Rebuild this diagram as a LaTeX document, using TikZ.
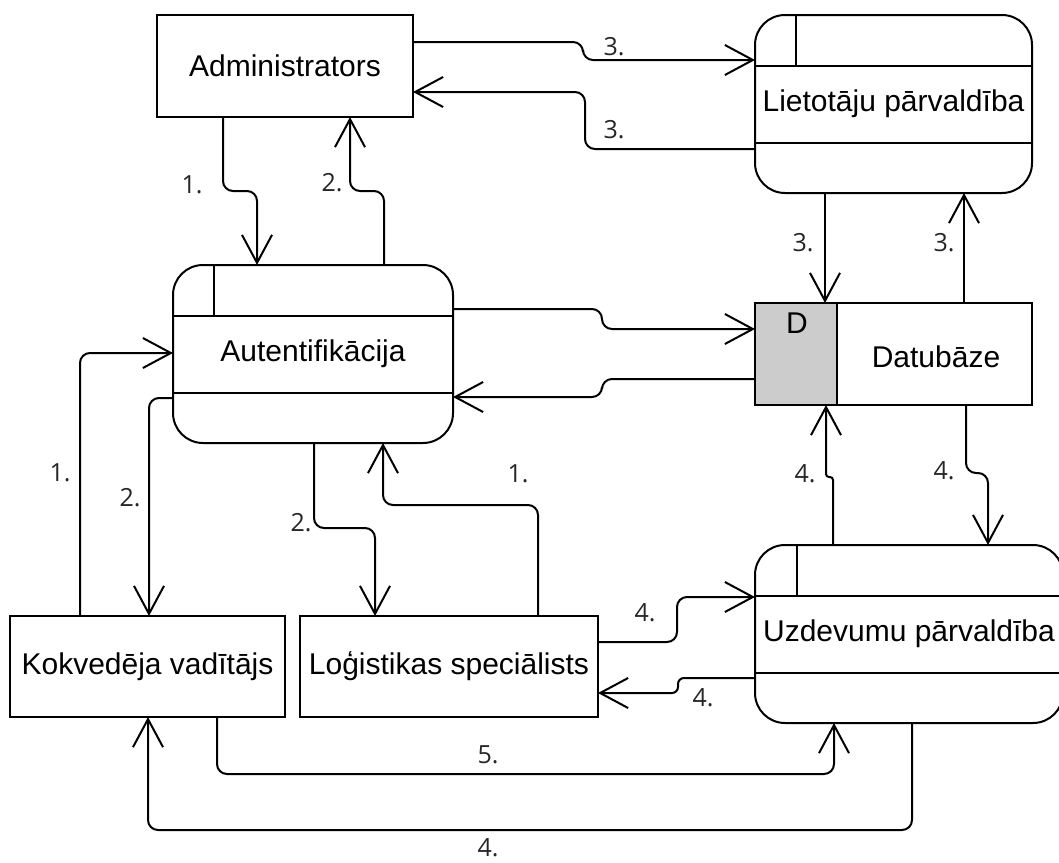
\documentclass[tikz,border=0pt]{standalone}
\usepackage{fontspec}
\setmainfont{Liberation Sans}
\newfontfamily\lblfont{Open Sans}
\usetikzlibrary{arrows.meta,calc}
\definecolor{dbgray}{HTML}{CCCCCC}
\begin{document}
\begin{tikzpicture}[x=1pt,y=-1pt,
  every node/.style={font=\fontsize{30}{36}\selectfont, inner sep=0pt, outer sep=0pt},
  box/.style={draw, line width=2pt, fill=white},
  proc/.style={draw, line width=2pt, fill=white, rounded corners=30pt},
  flow/.style={draw, line width=2pt, rounded corners=10pt,
    -{Straight Barb[length=28pt,width=30pt,line width=2pt]}},
  lbl/.style={font=\lblfont\fontsize{25}{30}\selectfont, text=black!85}]
\useasboundingbox (0,0) rectangle (1059,862);
\fill[white] (0,0) rectangle (1059,862);
\clip (0,0) rectangle (1059,862);

% nodes
\node[box, minimum width=256pt, minimum height=102pt] (adm) at (285,66) {Administrators};
\node[proc, minimum width=277pt, minimum height=178pt] (lie) at (893.5,104) {Lietotāju pārvaldība};
\node[proc, minimum width=280pt, minimum height=178pt] (aut) at (313,354) {Autentifikācija};
\node[box, minimum width=277pt, minimum height=102pt] (db) at (893.5,354) {};
\node[proc, minimum width=308pt, minimum height=178pt] (uzd) at (909,634) {Uzdevumu pārvaldība};
\node[box, minimum width=275pt, minimum height=101pt] (kok) at (147.5,666.5) {Kokvedēja vadītājs};
\node[box, minimum width=298pt, minimum height=101pt] (log) at (449,666.5) {Loģistikas speciālists};

% process decorations
\foreach \p/\d in {lie/41,aut/41,uzd/42}{
  \draw[line width=2pt] ($(\p.north west)+(0,51)$) -- ($(\p.north east)+(0,51)$);
  \draw[line width=2pt] ($(\p.north west)+(0,128)$) -- ($(\p.north east)+(0,128)$);
  \draw[line width=2pt] ($(\p.north west)+(\d,0)$) -- ($(\p.north west)+(\d,51)$);
}
% data store
\filldraw[fill=dbgray, line width=2pt] (db.north west) rectangle ($(db.south west)+(82,0)$);
\node (dbd) at ($(db.north west)+(42,20)$) {D};
\node (dbt) at ($(db.north west)+(181,54)$) {Datubāze};

% connectors
\draw[flow] ($(adm.south west)+(66,0)$) -- (223,191) -- (257,191) -- ($(aut.north west)+(84,0)$);
\draw[flow] ($(aut.north west)+(211,0)$) -- (384,191) -- (350,191) -- ($(adm.south west)+(193,0)$);
\draw[flow] ($(adm.north east)+(0,27)$) -- (583,42) -- (583,60) -- ($(lie.north west)+(0,45)$);
\draw[flow] ($(lie.north west)+(0,134)$) -- (585,149) -- (585,92) -- ($(adm.north east)+(0,77)$);
\draw[flow] ($(lie.south west)+(70,0)$) -- ($(db.north west)+(70,0)$);
\draw[flow] ($(db.north west)+(209,0)$) -- ($(lie.south west)+(209,0)$);
\draw[flow] ($(aut.north east)+(0,44)$) -- (602,309) -- (602,329) -- ($(db.north west)+(0,26)$);
\draw[flow] ($(db.north west)+(0,76)$) -- (602,379) -- (602,397) -- ($(aut.north east)+(0,132)$);
\draw[flow] ($(kok.north west)+(70,0)$) -- (80,353) -- ($(aut.north west)+(0,88)$);
\draw[flow] ($(aut.north west)+(0,133)$) -- (149,398) -- ($(kok.north west)+(139,0)$);
\draw[flow] ($(aut.south west)+(141,0)$) -- (314,528) -- (375,528) -- ($(log.north west)+(75,0)$);
\draw[flow] ($(log.north west)+(238,0)$) -- (538,505) -- (383,505) -- ($(aut.south west)+(210,0)$);
\draw[flow, rounded corners=3pt] ($(uzd.north west)+(78,0)$) -- (833,477) -- (826,477) -- ($(db.south west)+(71,0)$);
\draw[flow] ($(db.south west)+(211,0)$) -- (966,473) -- (988,473) -- ($(uzd.north west)+(233,0)$);
\draw[flow] ($(log.north east)+(0,26)$) -- (677,642) -- (677,597) -- ($(uzd.north west)+(0,52)$);
\draw[flow, rounded corners=6pt] ($(uzd.north west)+(0,133)$) -- (678,678) -- (678,693) -- ($(log.north east)+(0,77)$);
\draw[flow] ($(kok.south west)+(207,0)$) -- (217,774) -- (834,774) -- ($(uzd.south west)+(79,0)$);
\draw[flow] ($(uzd.south west)+(157,0)$) -- (912,830) -- (148,830) -- ($(kok.south west)+(138,0)$);

% labels
\node[lbl] (l1) at (192,185) {1.};
\node[lbl] (l2) at (332,183) {2.};
\node[lbl] (l3) at (614,47) {3.};
\node[lbl] (l4) at (614,130) {3.};
\node[lbl] (l5) at (803,243) {3.};
\node[lbl] (l6) at (944,243) {3.};
\node[lbl] (l7) at (60,473) {1.};
\node[lbl] (l8) at (130,498) {2.};
\node[lbl] (l9) at (301,523) {2.};
\node[lbl] (l10) at (518,474) {1.};
\node[lbl] (l11) at (805,474) {4.};
\node[lbl] (l12) at (944,471) {4.};
\node[lbl] (l13) at (645,613) {4.};
\node[lbl] (l14) at (703,698) {4.};
\node[lbl] (l15) at (488,755) {5.};
\node[lbl] (l16) at (488,848) {4.};
\end{tikzpicture}
\end{document}
